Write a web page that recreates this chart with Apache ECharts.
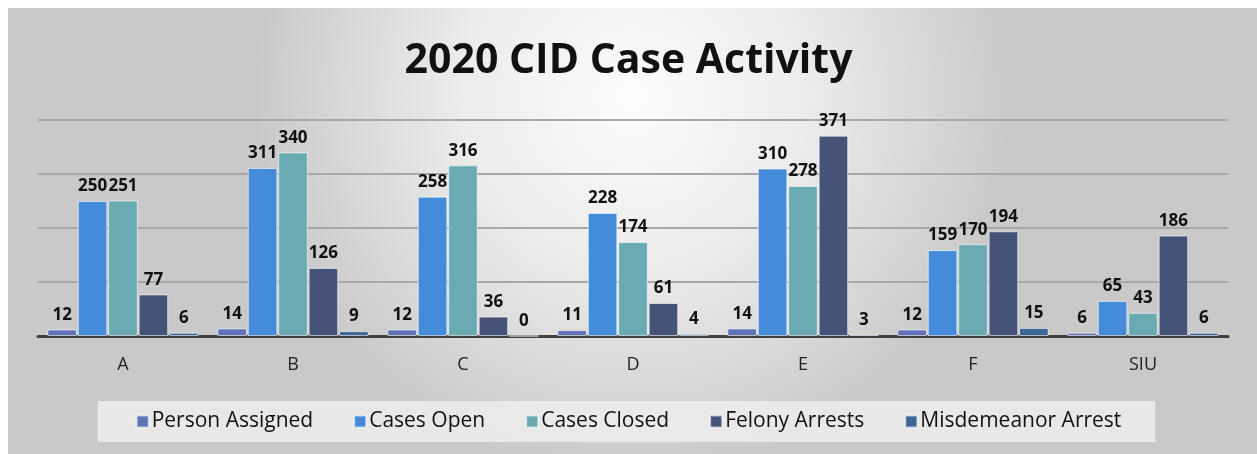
<!DOCTYPE html>
<html>
<head>
<meta charset="utf-8">
<script src="https://cdn.jsdelivr.net/npm/echarts@6/dist/echarts.min.js"></script>
<style>
    html, body { margin: 0; padding: 0; background: #fff; }
    #chart { width: 1257px; height: 454px; }
</style>
</head>
<body>
<div id="chart"></div>
<script>
// 类别与数据
const categories = ['A', 'B', 'C', 'D', 'E', 'F', 'SIU']
const personAssigned = [12, 14, 12, 11, 14, 12, 6]
const casesOpen = [250, 311, 258, 228, 310, 159, 65]
const casesClosed = [251, 340, 316, 174, 278, 170, 43]
const felonyArrests = [77, 126, 36, 61, 371, 194, 186]
const misdemeanorArrest = [6, 9, 0, 4, 3, 15, 6]

const seriesDefs = [
    { name: 'Person Assigned', data: personAssigned, color: '#6072b8' },
    { name: 'Cases Open', data: casesOpen, color: '#448bd9' },
    { name: 'Cases Closed', data: casesClosed, color: '#6aaab3' },
    { name: 'Felony Arrests', data: felonyArrests, color: '#465378' },
    { name: 'Misdemeanor Arrest', data: misdemeanorArrest, color: '#3b6797' }
]

const myChart = echarts.init(document.getElementById('chart'))
myChart.setOption({
    animation: false,
    backgroundColor: '#fff',
    graphic: [
        {
            type: 'rect',
            z: -10,
            silent: true,
            shape: { x: 8, y: 8, width: 1249, height: 446 },
            style: {
                fill: new echarts.graphic.RadialGradient(0.5, 0.2, 0.85, [
                    { offset: 0, color: '#fcfcfc' },
                    { offset: 0.45, color: '#ececec' },
                    { offset: 1, color: '#c9c9c9' }
                ])
            }
        }
    ],
    title: {
        text: '2020 CID Case Activity',
        left: 'center',
        top: 36,
        textStyle: {
            fontFamily: 'Open Sans',
            fontWeight: 'bold',
            fontSize: 41,
            color: '#111'
        }
    },
    legend: {
        bottom: 12,
        left: 'center',
        backgroundColor: 'rgba(242,242,242,0.75)',
        padding: [10, 34, 10, 38],
        itemGap: 40,
        itemWidth: 12,
        itemHeight: 12,
        icon: 'rect',
        textStyle: { fontFamily: 'Open Sans', fontSize: 21, color: '#111', padding: [0, 0, 0, -2] }
    },
    grid: {
        left: 38,
        right: 29,
        top: 120,
        bottom: 118
    },
    xAxis: {
        type: 'category',
        data: categories,
        axisLine: { lineStyle: { color: '#404040', width: 3 } },
        axisTick: { show: false },
        axisLabel: { fontFamily: 'Open Sans', fontSize: 18, color: '#222', margin: 20 }
    },
    yAxis: {
        type: 'value',
        min: 0,
        max: 400,
        interval: 100,
        axisLabel: { show: false },
        axisLine: { show: false },
        axisTick: { show: false },
        splitLine: { lineStyle: { color: '#a8a8a8', width: 2 } }
    },
    series: seriesDefs.map(s => ({
        name: s.name,
        type: 'bar',
        data: s.data,
        barGap: '3%',
        barCategoryGap: '11%',
        itemStyle: {
            color: s.color,
            borderColor: 'rgba(255,255,255,0.6)',
            borderWidth: 1
        },
        label: {
            show: true,
            position: 'top',
            distance: 6,
            fontFamily: 'Open Sans',
            fontWeight: 'bold',
            fontSize: 17,
            color: '#111'
        }
    }))
})
</script>
</body>
</html>
